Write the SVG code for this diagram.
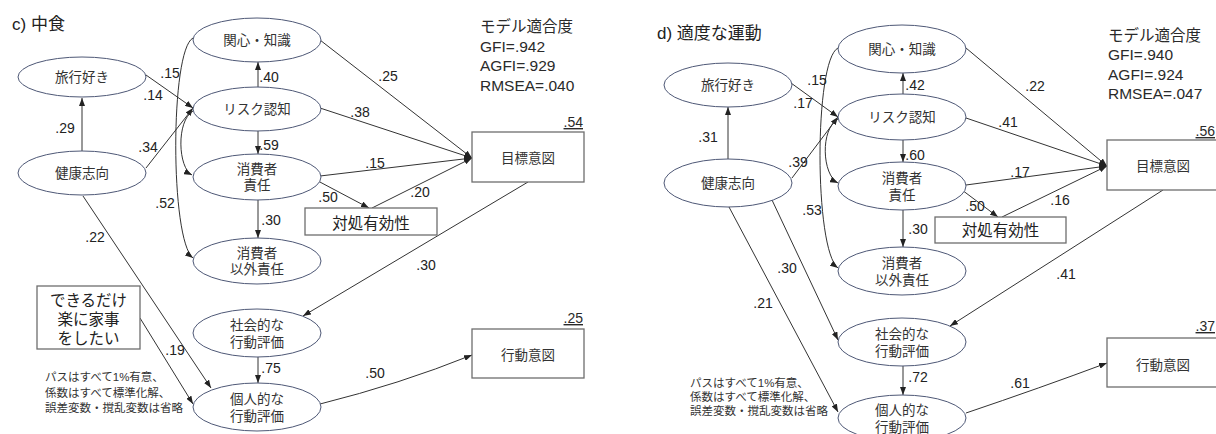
<svg xmlns="http://www.w3.org/2000/svg" width="1216" height="434" viewBox="0 0 1216 434">
<style>
text{font-family:"Liberation Sans","Noto Sans CJK JP",sans-serif;fill:#2a2a2a}
.nd ellipse{fill:#fff;stroke:#4e5876;stroke-width:1}
.nd rect{fill:#fff;stroke:#6e6e6e;stroke-width:1.3}
.nt{font-size:13.5px;text-anchor:middle;fill:#333}
.bt{font-size:15.5px;text-anchor:middle;fill:#222}
.lb{font-size:14px;text-anchor:middle;fill:#222}
.fit{font-size:15.5px;fill:#2a2a2a}
.ttl{font-size:17px;fill:#222}
.note{font-size:11.5px;fill:#333}
.r2{font-size:14px;text-anchor:end;text-decoration:underline}
#edges path{fill:none;stroke:#333;stroke-width:1;marker-end:url(#ah)}
</style>
<defs>
<marker id="ah" viewBox="0 0 8 6" markerWidth="8" markerHeight="6" refX="8" refY="3" orient="auto" markerUnits="userSpaceOnUse">
<path d="M0,0 L8,3 L0,6 z" fill="#222"/>
</marker>
</defs>
<rect width="1216" height="434" fill="#fff"/>

<g id="edges">
<!-- panel c -->
<path d="M82,151 L82,98"/>
<path d="M146,75 L193,108"/>
<path d="M146,168 L193,108"/>
<path d="M193,38 C170,50 170,240 193,258"/>
<path d="M193,111 C176,121 178,168 192,175"/>
<path d="M258,87 L258,62"/>
<path d="M258,131 L258,154"/>
<path d="M258,200 L258,238"/>
<path d="M258,357 L258,383"/>
<path d="M320,40 L472,158"/>
<path d="M320,108 L472,158"/>
<path d="M320,176 L472,158"/>
<path d="M318,181 L369,208"/>
<path d="M372,208 L472,158"/>
<path d="M528,182 L303,316"/>
<path d="M83,196 L211,388"/>
<path d="M140,318 L193,404"/>
<path d="M320,404 Q400,384 472,355"/>
<!-- panel d -->
<path d="M728,159 L728,107"/>
<path d="M791,83 L838,117"/>
<path d="M792,178 L838,117"/>
<path d="M838,48 C814,60 814,250 838,268"/>
<path d="M838,119 C820,129 822,175 838,183"/>
<path d="M903,94 L903,73"/>
<path d="M903,140 L903,162"/>
<path d="M903,210 L903,247"/>
<path d="M903,366 L903,395"/>
<path d="M966,48 L1107,166"/>
<path d="M966,118 L1107,166"/>
<path d="M966,185 L1107,166"/>
<path d="M962,190 L998,217"/>
<path d="M1002,217 L1107,166"/>
<path d="M1163,190 L950,326"/>
<path d="M772,200 L838,340"/>
<path d="M729,207 L838,412"/>
<path d="M966,413 Q1040,388 1107,363"/>
</g>

<!-- panel c nodes -->
<g id="c_ryoko" class="nd"><ellipse cx="82" cy="77" rx="64" ry="20"/><text class="nt" x="82" y="82">旅行好き</text></g>
<g id="c_kenko" class="nd"><ellipse cx="82" cy="173" rx="64" ry="22"/><text class="nt" x="82" y="178">健康志向</text></g>
<g id="c_kanshin" class="nd"><ellipse cx="257" cy="40" rx="64" ry="22"/><text class="nt" x="257" y="45">関心・知識</text></g>
<g id="c_risk" class="nd"><ellipse cx="257" cy="109" rx="64" ry="22"/><text class="nt" x="257" y="114">リスク認知</text></g>
<g id="c_sekinin" class="nd"><ellipse cx="257" cy="177" rx="64" ry="23"/><text class="nt" x="257" y="174">消費者</text><text class="nt" x="257" y="190">責任</text></g>
<g id="c_igai" class="nd"><ellipse cx="257" cy="261" rx="64" ry="23"/><text class="nt" x="257" y="258">消費者</text><text class="nt" x="257" y="274">以外責任</text></g>
<g id="c_shakai" class="nd"><ellipse cx="257" cy="333" rx="64" ry="24"/><text class="nt" x="257" y="330">社会的な</text><text class="nt" x="257" y="347">行動評価</text></g>
<g id="c_kojin" class="nd"><ellipse cx="257" cy="407" rx="64" ry="24"/><text class="nt" x="257" y="404">個人的な</text><text class="nt" x="257" y="421">行動評価</text></g>
<g id="c_mokuhyo" class="nd"><rect x="472" y="132" width="112" height="50"/><text class="nt" x="528" y="163">目標意図</text></g>
<g id="c_taisho" class="nd"><rect x="305" y="208" width="132" height="27"/><text class="bt" x="371" y="229">対処有効性</text></g>
<g id="c_kodo" class="nd"><rect x="472" y="329" width="112" height="49"/><text class="nt" x="528" y="360">行動意図</text></g>
<g id="c_raku" class="nd"><rect x="37" y="286" width="103" height="63"/><text class="bt" x="88.5" y="306">できるだけ</text><text class="bt" x="88.5" y="325">楽に家事</text><text class="bt" x="88.5" y="344">をしたい</text></g>

<!-- panel d nodes -->
<g id="d_ryoko" class="nd"><ellipse cx="728" cy="85" rx="64" ry="22"/><text class="nt" x="728" y="90">旅行好き</text></g>
<g id="d_kenko" class="nd"><ellipse cx="728" cy="183" rx="64" ry="24"/><text class="nt" x="728" y="188">健康志向</text></g>
<g id="d_kanshin" class="nd"><ellipse cx="902" cy="49" rx="64" ry="24"/><text class="nt" x="902" y="54">関心・知識</text></g>
<g id="d_risk" class="nd"><ellipse cx="902" cy="117" rx="64" ry="23"/><text class="nt" x="902" y="122">リスク認知</text></g>
<g id="d_sekinin" class="nd"><ellipse cx="902" cy="186" rx="64" ry="24"/><text class="nt" x="902" y="183">消費者</text><text class="nt" x="902" y="200">責任</text></g>
<g id="d_igai" class="nd"><ellipse cx="902" cy="271" rx="64" ry="24"/><text class="nt" x="902" y="268">消費者</text><text class="nt" x="902" y="285">以外責任</text></g>
<g id="d_shakai" class="nd"><ellipse cx="902" cy="342" rx="64" ry="24"/><text class="nt" x="902" y="339">社会的な</text><text class="nt" x="902" y="356">行動評価</text></g>
<g id="d_kojin" class="nd"><ellipse cx="902" cy="418" rx="64" ry="23"/><text class="nt" x="902" y="415">個人的な</text><text class="nt" x="902" y="432">行動評価</text></g>
<g id="d_mokuhyo" class="nd"><rect x="1107" y="140" width="112" height="50"/><text class="nt" x="1163" y="171">目標意図</text></g>
<g id="d_taisho" class="nd"><rect x="935" y="217" width="131" height="26"/><text class="bt" x="1000.5" y="236">対処有効性</text></g>
<g id="d_kodo" class="nd"><rect x="1107" y="338" width="112" height="49"/><text class="nt" x="1163" y="370">行動意図</text></g>

<!-- labels panel c -->
<g id="c_labels">
<text class="ttl" x="12" y="30">c) 中食</text>
<text class="fit" x="480" y="32">モデル適合度</text>
<text class="fit" x="480" y="51.5">GFI=.942</text>
<text class="fit" x="480" y="71">AGFI=.929</text>
<text class="fit" x="480" y="90.5">RMSEA=.040</text>
<text class="r2" x="583" y="127">.54</text>
<text class="r2" x="583" y="323">.25</text>
<text class="lb" x="65" y="133">.29</text>
<text class="lb" x="170" y="78">.15</text>
<text class="lb" x="153" y="100">.14</text>
<text class="lb" x="148" y="152">.34</text>
<text class="lb" x="165" y="208">.52</text>
<text class="lb" x="269" y="82">.40</text>
<text class="lb" x="269" y="150">.59</text>
<text class="lb" x="388" y="81">.25</text>
<text class="lb" x="360" y="117">.38</text>
<text class="lb" x="375" y="168">.15</text>
<text class="lb" x="328" y="202">.50</text>
<text class="lb" x="420" y="197">.20</text>
<text class="lb" x="271" y="225">.30</text>
<text class="lb" x="95" y="242">.22</text>
<text class="lb" x="175" y="355">.19</text>
<text class="lb" x="271" y="373">.75</text>
<text class="lb" x="375" y="378">.50</text>
<text class="lb" x="426" y="270">.30</text>
<text class="note" x="45" y="381">パスはすべて1%有意、</text>
<text class="note" x="45" y="397">係数はすべて標準化解、</text>
<text class="note" x="45" y="412">誤差変数・撹乱変数は省略</text>
</g>

<!-- labels panel d -->
<g id="d_labels">
<text class="ttl" x="657" y="39">d) 適度な運動</text>
<text class="fit" x="1108" y="40.5">モデル適合度</text>
<text class="fit" x="1108" y="59.5">GFI=.940</text>
<text class="fit" x="1108" y="79.5">AGFI=.924</text>
<text class="fit" x="1108" y="98.5">RMSEA=.047</text>
<text class="r2" x="1215" y="136">.56</text>
<text class="r2" x="1215" y="331">.37</text>
<text class="lb" x="708" y="142">.31</text>
<text class="lb" x="817" y="85">.15</text>
<text class="lb" x="803" y="108">.17</text>
<text class="lb" x="798" y="167">.39</text>
<text class="lb" x="812" y="215">.53</text>
<text class="lb" x="915" y="90">.42</text>
<text class="lb" x="915" y="160">.60</text>
<text class="lb" x="1035" y="91">.22</text>
<text class="lb" x="1008" y="127">.41</text>
<text class="lb" x="1020" y="177">.17</text>
<text class="lb" x="975" y="211">.50</text>
<text class="lb" x="1060" y="205">.16</text>
<text class="lb" x="918" y="234">.30</text>
<text class="lb" x="1066" y="279">.41</text>
<text class="lb" x="918" y="382">.72</text>
<text class="lb" x="1020" y="388">.61</text>
<text class="lb" x="787" y="273">.30</text>
<text class="lb" x="763" y="308">.21</text>
<text class="note" x="690" y="387">パスはすべて1%有意、</text>
<text class="note" x="690" y="401">係数はすべて標準化解、</text>
<text class="note" x="690" y="415">誤差変数・撹乱変数は省略</text>
</g>
</svg>
